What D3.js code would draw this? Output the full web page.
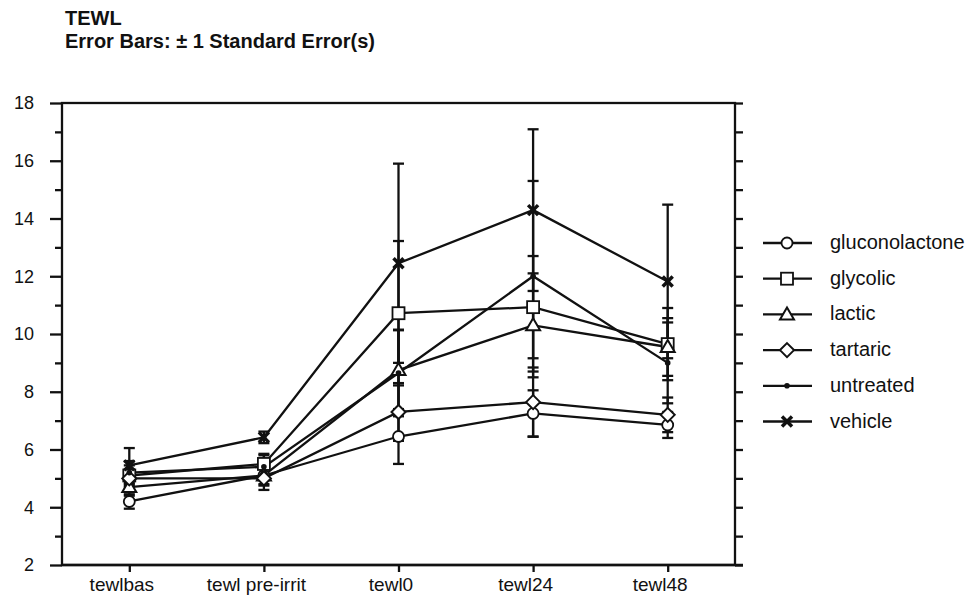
<!DOCTYPE html>
<html>
<head>
<meta charset="utf-8">
<script src="https://cdn.jsdelivr.net/npm/d3@7"></script>
<style>
  body { margin: 0; background: #fff; }
  svg { display: block; }
  text { font-family: "Liberation Sans", Arial, sans-serif; fill: #111; }
</style>
</head>
<body>
<svg id="chart" width="971" height="598"></svg>
<script>
// ---- data ----
const categories = ["tewlbas", "tewl pre-irrit", "tewl0", "tewl24", "tewl48"];
const seriesNames = ["gluconolactone", "glycolic", "lactic", "tartaric", "untreated", "vehicle"];
const gluconolactone = [4.2, 5.1, 6.45, 7.25, 6.85];
const glycolic       = [5.1, 5.5, 10.72, 10.93, 9.65];
const lactic         = [4.7, 5.1, 8.75, 10.3, 9.55];
const tartaric       = [5.0, 5.0, 7.3, 7.64, 7.2];
const untreated      = [5.2, 5.4, 8.65, 12.0, 9.0];
const vehicle        = [5.45, 6.42, 12.45, 14.29, 11.82];
const seGluconolactone = [0.25, 0.3, 0.95, 0.8, 0.45];
const seGlycolic       = [0.35, 0.35, 2.5, 1.77, 1.25];
const seLactic         = [0.3, 0.35, 1.38, 1.8, 1.0];
const seTartaric       = [0.3, 0.4, 1.0, 1.2, 0.6];
const seUntreated      = [0.4, 0.4, 1.5, 3.3, 1.4];
const seVehicle        = [0.6, 0.2, 3.45, 2.8, 2.66];
const yTicks = [2, 4, 6, 8, 10, 12, 14, 16, 18];
const titleLines = ["TEWL", "Error Bars: \u00b1 1 Standard Error(s)"];

const series = [
  {name: seriesNames[0], values: gluconolactone, se: seGluconolactone, sym: "circle"},
  {name: seriesNames[1], values: glycolic, se: seGlycolic, sym: "square"},
  {name: seriesNames[2], values: lactic, se: seLactic, sym: "triangle"},
  {name: seriesNames[3], values: tartaric, se: seTartaric, sym: "diamond"},
  {name: seriesNames[4], values: untreated, se: seUntreated, sym: "dot"},
  {name: seriesNames[5], values: vehicle, se: seVehicle, sym: "cross"}
];

// ---- layout ----
const svg = d3.select("#chart");
const L = 62, R = 735, T = 103, B = 565;
const x = d3.scalePoint().domain(categories).range([L, R]).padding(0.5);
const y = d3.scaleLinear().domain([2, 18]).range([B, T]);
const ink = "#111";
const lw = 2.3;

// title
svg.append("g").selectAll("text").data(titleLines).join("text")
  .attr("x", 65).attr("y", (d, i) => 25 + i * 23)
  .attr("font-size", 20).attr("font-weight", "bold").text(d => d);

// frame
svg.append("rect").attr("x", L).attr("y", T).attr("width", R - L).attr("height", B - T)
  .attr("fill", "none").attr("stroke", ink).attr("stroke-width", lw);

// left axis
const minorTicks = d3.range(3, 18, 2);
const gL = svg.append("g").attr("transform", `translate(${L},0)`);
gL.call(d3.axisLeft(y).tickValues(yTicks).tickSize(12).tickPadding(16).tickFormat(d3.format("d")));
gL.append("g").call(d3.axisLeft(y).tickValues(minorTicks).tickSize(7).tickFormat(""));
gL.selectAll(".domain").remove();
gL.selectAll("line").attr("stroke", ink).attr("stroke-width", lw);
gL.selectAll("text").attr("font-size", 18).attr("fill", ink)
  .style("font-family", "'Liberation Sans', Arial, sans-serif");

// right axis
const gR = svg.append("g").attr("transform", `translate(${R},0)`);
gR.call(d3.axisRight(y).tickValues(d3.range(2, 19, 1)).tickSize(8).tickFormat(""));
gR.selectAll(".domain").remove();
gR.selectAll("line").attr("stroke", ink).attr("stroke-width", lw);

// bottom axis
const gB = svg.append("g").attr("transform", `translate(0,${B})`);
gB.call(d3.axisBottom(x).tickSize(7).tickPadding(6));
gB.selectAll(".domain").remove();
gB.selectAll("line").attr("stroke", ink).attr("stroke-width", lw);
gB.selectAll("text").attr("font-size", 19).attr("fill", ink).attr("dx", -8)
  .style("font-family", "'Liberation Sans', Arial, sans-serif");
svg.append("line").attr("x1", L).attr("x2", R + 8).attr("y1", B).attr("y2", B)
  .attr("stroke", ink).attr("stroke-width", lw);

// markers
function drawSym(g, sym) {
  if (sym === "circle") {
    g.append("circle").attr("r", 5.5).attr("fill", "#fff").attr("stroke", ink).attr("stroke-width", 1.8);
  } else if (sym === "square") {
    g.append("rect").attr("x", -6).attr("y", -6).attr("width", 12).attr("height", 12)
      .attr("fill", "#fff").attr("stroke", ink).attr("stroke-width", 1.8);
  } else if (sym === "triangle") {
    g.append("path").attr("d", "M0,-7L7,5L-7,5Z").attr("fill", "#fff").attr("stroke", ink).attr("stroke-width", 2);
  } else if (sym === "diamond") {
    g.append("path").attr("d", "M0,-7L7,0L0,7L-7,0Z").attr("fill", "#fff").attr("stroke", ink).attr("stroke-width", 2);
  } else if (sym === "dot") {
    g.append("circle").attr("r", 2.8).attr("fill", ink);
  } else if (sym === "cross") {
    g.append("path").attr("d", "M-5,-5L5,5M5,-5L-5,5").attr("stroke", ink).attr("stroke-width", 3.5);
    g.append("circle").attr("r", 2.5).attr("fill", ink);
  }
}

const line = d3.line().x((d, i) => x(categories[i])).y(d => y(d));
const plot = svg.append("g");

// error bars
series.forEach(s => {
  const eg = plot.append("g");
  s.values.forEach((v, i) => {
    const cx = x(categories[i]);
    const lo = y(v - s.se[i]), hi = y(v + s.se[i]);
    eg.append("line").attr("x1", cx).attr("x2", cx).attr("y1", lo).attr("y2", hi)
      .attr("stroke", ink).attr("stroke-width", lw);
    [lo, hi].forEach(yy => eg.append("line").attr("x1", cx - 5.5).attr("x2", cx + 5.5)
      .attr("y1", yy).attr("y2", yy).attr("stroke", ink).attr("stroke-width", lw));
  });
});

// lines
series.forEach(s => {
  plot.append("path").datum(s.values).attr("d", line)
    .attr("fill", "none").attr("stroke", ink).attr("stroke-width", lw);
});

// symbols
series.forEach(s => {
  s.values.forEach((v, i) => {
    const g = plot.append("g").attr("transform", `translate(${x(categories[i])},${y(v)})`);
    drawSym(g, s.sym);
  });
});

// legend
const leg = svg.append("g");
series.forEach((s, i) => {
  const ly = 243 + i * 35.7;
  const g = leg.append("g").attr("transform", `translate(0,${ly})`);
  g.append("line").attr("x1", 763).attr("x2", 812).attr("stroke", ink).attr("stroke-width", lw);
  const sg = g.append("g").attr("transform", "translate(787,0)");
  drawSym(sg, s.sym);
  g.append("text").attr("x", 830).attr("y", 6).attr("font-size", 20).text(s.name);
});
</script>
</body>
</html>
